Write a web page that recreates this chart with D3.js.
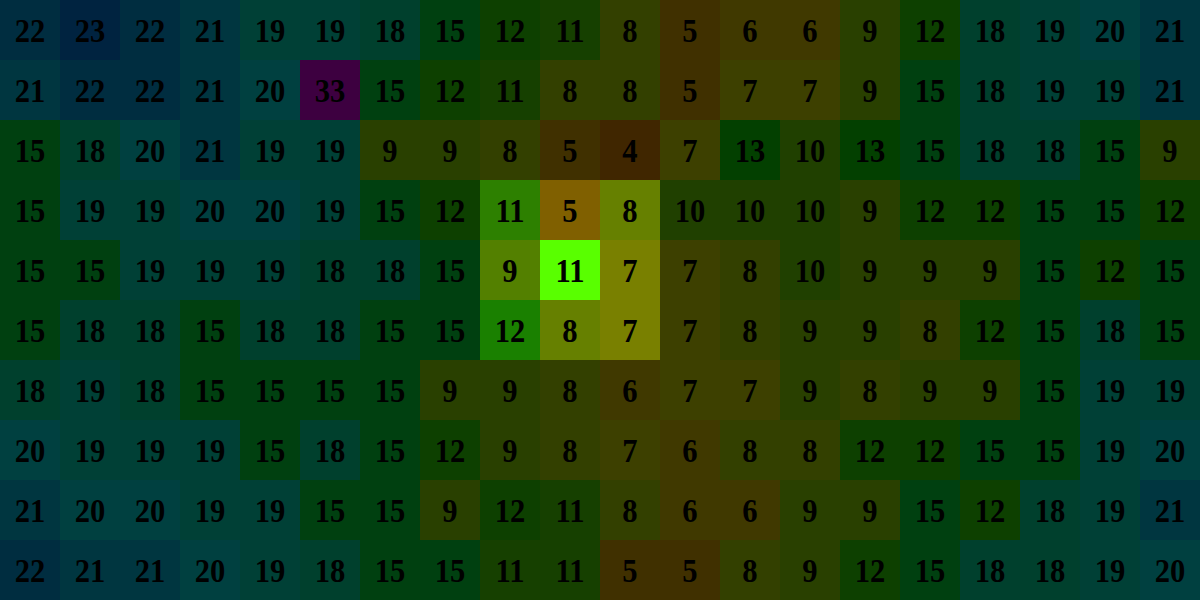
<!DOCTYPE html>
<html><head><meta charset="utf-8">
<script src="https://cdn.jsdelivr.net/npm/d3@7"></script>
<style>html,body{margin:0;padding:0;background:#000;overflow:hidden}</style>
</head><body>
<svg id="chart" width="1200" height="600"></svg>
<script>
const columns = d3.range(20);
const rows = d3.range(10);
const grid = [
  [22,23,22,21,19,19,18,15,12,11,8,5,6,6,9,12,18,19,20,21],
  [21,22,22,21,20,33,15,12,11,8,8,5,7,7,9,15,18,19,19,21],
  [15,18,20,21,19,19,9,9,8,5,4,7,13,10,13,15,18,18,15,9],
  [15,19,19,20,20,19,15,12,11,5,8,10,10,10,9,12,12,15,15,12],
  [15,15,19,19,19,18,18,15,9,11,7,7,8,10,9,9,9,15,12,15],
  [15,18,18,15,18,18,15,15,12,8,7,7,8,9,9,8,12,15,18,15],
  [18,19,18,15,15,15,15,9,9,8,6,7,7,9,8,9,9,15,19,19],
  [20,19,19,19,15,18,15,12,9,8,7,6,8,8,12,12,15,15,19,20],
  [21,20,20,19,19,15,15,9,12,11,8,6,6,9,9,15,12,18,19,21],
  [22,21,21,20,19,18,15,15,11,11,5,5,8,9,12,15,18,18,19,20]
];
const focus = {row: 4, col: 9};
const lightLevels = [0.5, 0.25, 0.125]; // focus, neighbour, other

const W = 1200, H = 600;
const x = d3.scaleBand().domain(columns).range([0, W]);
const y = d3.scaleBand().domain(rows).range([0, H]);
const hue = d3.scaleLinear().domain([0, 40]).range([0, 360]);

const cells = [];
rows.forEach(r => columns.forEach(c => {
  const dist = Math.max(Math.abs(r - focus.row), Math.abs(c - focus.col));
  cells.push({r, c, v: grid[r][c], level: dist === 0 ? 0 : dist === 1 ? 1 : 2});
}));

const svg = d3.select('#chart');
const g = svg.selectAll('g.cell').data(cells).join('g').attr('class','cell')
  .attr('transform', d => `translate(${x(d.c)},${y(d.r)})`);
g.append('rect')
  .attr('width', x.bandwidth()).attr('height', y.bandwidth())
  .attr('fill', d => d3.hsl(hue(d.v), 1, lightLevels[d.level]).formatHex());
g.append('text')
  .attr('transform', `translate(${x.bandwidth()/2},${y.bandwidth()/2 + 12}) scale(0.9,1)`)
  .attr('text-anchor','middle')
  .style('font-family','"Liberation Serif", serif')
  .style('font-weight','bold')
  .style('font-size','34px')
  .attr('fill','#000')
  .text(d => d.v);
</script>
</body></html>
